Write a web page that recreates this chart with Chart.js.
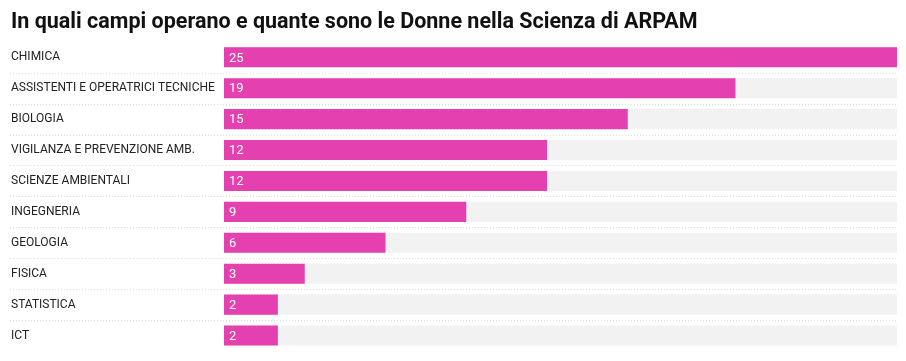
<!DOCTYPE html>
<html>
<head>
<meta charset="utf-8">
<script src="https://cdn.jsdelivr.net/npm/chart.js@4.4.1/dist/chart.umd.min.js"></script>
<style>
  html, body { margin: 0; padding: 0; background: #fff; }
  #wrap { width: 906px; height: 361px; position: relative; }
</style>
</head>
<body>
<div id="wrap"><canvas id="chart"></canvas></div>
<script>
const categories = [
  'CHIMICA',
  'ASSISTENTI E OPERATRICI TECNICHE',
  'BIOLOGIA',
  'VIGILANZA E PREVENZIONE AMB.',
  'SCIENZE AMBIENTALI',
  'INGEGNERIA',
  'GEOLOGIA',
  'FISICA',
  'STATISTICA',
  'ICT'
];
const values = [25, 19, 15, 12, 12, 9, 6, 3, 2, 2];
const maxValue = 25;

const barColor = '#e540b0';
const trackColor = '#f2f2f2';

// dotted separators between rows, running under the labels too
const separators = {
  id: 'separators',
  beforeDatasetsDraw(chart) {
    const { ctx, scales: { y }, chartArea } = chart;
    ctx.save();
    ctx.strokeStyle = '#dcdcdc';
    ctx.lineWidth = 1;
    ctx.setLineDash([1, 2]);
    for (let i = 0; i < categories.length - 1; i++) {
      const yy = Math.round((y.getPixelForTick(i) + y.getPixelForTick(i + 1)) / 2) + 0.5;
      ctx.beginPath();
      ctx.moveTo(10, yy);
      ctx.lineTo(chartArea.right, yy);
      ctx.stroke();
    }
    ctx.restore();
  }
};

// value labels inside the bars
const valueLabels = {
  id: 'valueLabels',
  afterDatasetsDraw(chart) {
    const { ctx } = chart;
    const meta = chart.getDatasetMeta(1);
    ctx.save();
    ctx.fillStyle = '#ffffff';
    ctx.font = '400 13px Roboto';
    ctx.textBaseline = 'middle';
    meta.data.forEach((bar, i) => {
      ctx.fillText(String(values[i]), bar.base + 5, bar.y + 1);
    });
    ctx.restore();
  }
};

new Chart(document.getElementById('chart'), {
  type: 'bar',
  data: {
    labels: categories,
    datasets: [
      {
        label: 'track',
        data: categories.map(() => maxValue),
        backgroundColor: trackColor,
        grouped: false,
        order: 2
      },
      {
        label: 'Donne',
        data: values,
        backgroundColor: barColor,
        grouped: false,
        order: 1
      }
    ]
  },
  options: {
    indexAxis: 'y',
    responsive: true,
    maintainAspectRatio: false,
    animation: false,
    datasets: {
      bar: { categoryPercentage: 1, barPercentage: 0.65 }
    },
    layout: { padding: { left: 11, right: 9, top: 0, bottom: 10 } },
    plugins: {
      legend: { display: false },
      tooltip: { enabled: false },
      title: {
        display: true,
        text: 'In quali campi operano e quante sono le Donne nella Scienza di ARPAM',
        align: 'start',
        color: '#111',
        font: { family: 'Roboto', size: 21.5, weight: 'bold' },
        padding: { top: 10, bottom: 6 }
      }
    },
    scales: {
      x: {
        display: false,
        min: 0,
        max: maxValue
      },
      y: {
        grid: { display: false },
        border: { display: false },
        afterFit(scale) { scale.width = 213; },
        ticks: {
          crossAlign: 'far',
          color: '#222',
          padding: 0,
          font: { family: 'Roboto', size: 12 }
        }
      }
    }
  },
  plugins: [separators, valueLabels]
});
</script>
</body>
</html>
